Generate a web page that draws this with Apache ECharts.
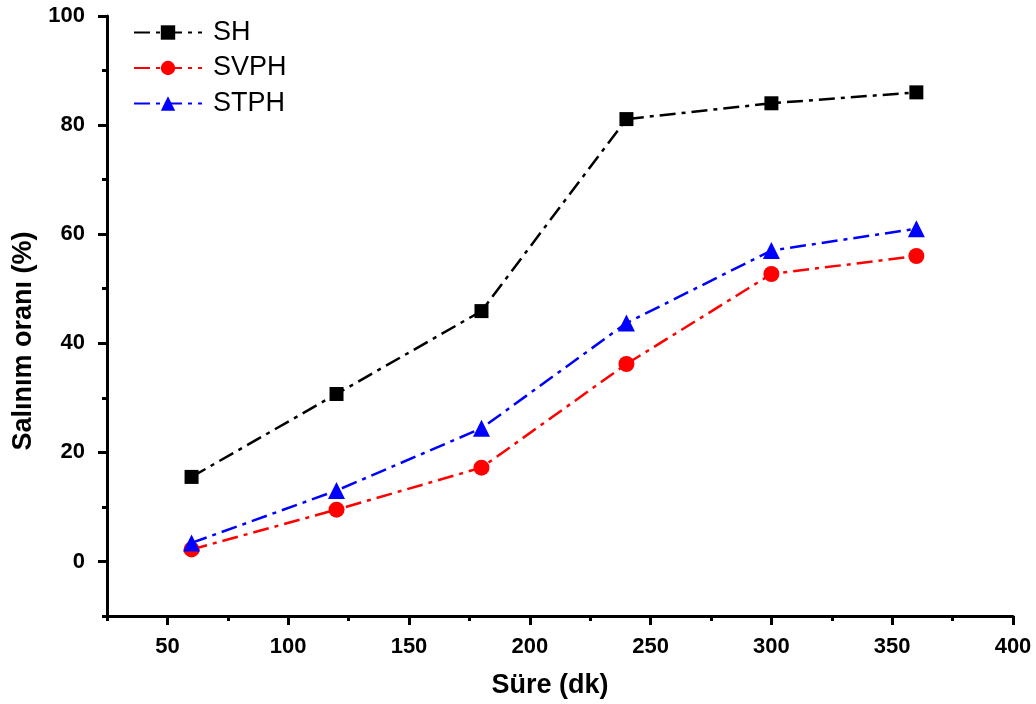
<!DOCTYPE html>
<html><head><meta charset="utf-8">
<script src="https://cdn.jsdelivr.net/npm/echarts@6/dist/echarts.min.js"></script>
<style>html,body{margin:0;padding:0;background:#fff}#c{width:1036px;height:704px}</style>
</head><body><div id="c"></div>
<script>
const times = [60, 120, 180, 240, 300, 360];
const sh = [15.5, 30.7, 45.9, 81.1, 84.0, 86.0];
const svph = [2.2, 9.5, 17.2, 36.2, 52.7, 56.0];
const stph = [3.4, 13.0, 24.4, 43.7, 57.0, 61.0];
const xMajor = [50, 100, 150, 200, 250, 300, 350, 400];
const xMinor = [25, 75, 125, 175, 225, 275, 325, 375];
const yMajor = [0, 20, 40, 60, 80, 100];
const yMinor = [-10, 10, 30, 50, 70, 90];

const pair = (xs, ys) => xs.map((x, i) => [x, ys[i]]);
const font = 'Liberation Sans, Arial, sans-serif';
const dash = [16, 6, 4, 6];

const chart = echarts.init(document.getElementById('c'));
const lineSeries = (name, data, color, symbol, size) => ({
  name, type: 'line', data, symbol, symbolSize: size,
  xAxisIndex: 0, yAxisIndex: 0,
  itemStyle: { color },
  lineStyle: { color, width: 2.5, type: dash },
  animation: false
});
chart.setOption({
  animation: false,
  grid: { left: 107, right: 23, top: 16, bottom: 87, containLabel: false },
  legend: {
    orient: 'vertical', left: 128, top: 14, itemWidth: 68, itemHeight: 18, itemGap: 8.5,
    textStyle: { fontFamily: font, fontSize: 27, color: '#000', padding: [0, 0, 0, 6] },
    data: ['SH', 'SVPH', 'STPH']
  },
  xAxis: [{
    type: 'value', min: 25, max: 400,
    name: 'Süre (dk)', nameLocation: 'middle', nameGap: 56,
    nameTextStyle: { fontFamily: font, fontSize: 27, fontWeight: 'bold', color: '#000', padding: [0, 20, 0, 0] },
    axisLine: { onZero: false, lineStyle: { color: '#000', width: 3 } },
    axisTick: { customValues: xMajor, length: 9, lineStyle: { color: '#000', width: 3 } },
    axisLabel: { customValues: xMajor, fontFamily: font, fontSize: 22, fontWeight: 'bold', color: '#000', margin: 20 },
    splitLine: { show: false }
  }, {
    type: 'value', min: 25, max: 400, position: 'bottom',
    axisLine: { show: false, onZero: false },
    axisTick: { customValues: xMinor, length: 5, lineStyle: { color: '#000', width: 3 } },
    axisLabel: { show: false }, splitLine: { show: false }
  }],
  yAxis: [{
    type: 'value', min: -10, max: 100,
    name: 'Salınım oranı (%)', nameLocation: 'middle', nameGap: 70, nameRotate: 90,
    nameTextStyle: { fontFamily: font, fontSize: 27, fontWeight: 'bold', color: '#000', padding: [0, 50, 0, 0] },
    axisLine: { onZero: false, lineStyle: { color: '#000', width: 3 } },
    axisTick: { customValues: yMajor, length: 9, lineStyle: { color: '#000', width: 3 } },
    axisLabel: { customValues: yMajor, fontFamily: font, fontSize: 22, fontWeight: 'bold', color: '#000', margin: 22 },
    splitLine: { show: false }
  }, {
    type: 'value', min: -10, max: 100, position: 'left',
    axisLine: { show: false, onZero: false },
    axisTick: { customValues: yMinor, length: 5, lineStyle: { color: '#000', width: 3 } },
    axisLabel: { show: false }, splitLine: { show: false }
  }],
  series: [
    lineSeries('SH', pair(times, sh), '#000000', 'rect', 14),
    lineSeries('SVPH', pair(times, svph), '#ff0000', 'circle', 16),
    lineSeries('STPH', pair(times, stph), '#0000ff', 'triangle', 17)
  ]
});
</script></body></html>
